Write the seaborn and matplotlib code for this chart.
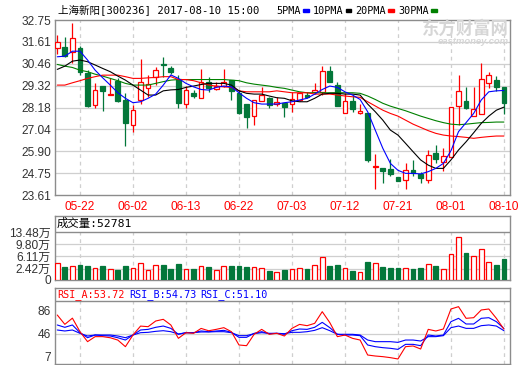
import matplotlib
matplotlib.use("Agg")
import matplotlib.pyplot as plt
import numpy as np
import seaborn as sns
from matplotlib.patches import Rectangle

# daily K-line 2017-05-17 .. 2017-08-10 (60 trading days)
open_ = [31.30, 31.35, 31.06, 31.30, 29.99, 28.31, 29.32, 28.85, 29.58, 28.57,
         27.26, 28.57, 29.21, 29.75, 30.47, 30.26, 29.66, 28.36, 28.95, 28.69,
         29.53, 29.14, 29.32, 29.64, 28.95, 28.36, 27.73, 28.53, 28.66, 28.36,
         28.43, 28.36, 28.57, 28.83, 29.00, 29.00, 30.10, 29.35, 27.91, 28.53,
         27.87, 27.91, 25.05, 25.00, 24.97, 24.57, 24.38, 24.91, 24.71, 24.38,
         25.82, 25.33, 25.61, 28.25, 28.53, 27.73, 27.84, 29.47, 29.64, 29.23]
close = [31.61, 30.86, 31.79, 30.05, 28.25, 29.12, 29.06, 28.90, 28.52, 27.39,
         28.04, 29.49, 29.40, 30.13, 30.42, 30.05, 28.43, 29.09, 28.79, 29.49,
         29.18, 29.32, 29.53, 29.06, 27.87, 27.70, 28.57, 28.83, 28.31, 28.48,
         28.22, 28.64, 28.95, 28.74, 29.12, 30.10, 29.53, 28.25, 28.53, 28.08,
         27.99, 25.44, 25.10, 24.88, 24.71, 24.34, 24.91, 24.74, 24.48, 25.69,
         25.47, 25.65, 28.22, 29.05, 28.13, 28.08, 29.66, 29.87, 29.26, 28.43]
high = [31.96, 31.87, 32.57, 31.39, 30.13, 29.47, 29.32, 29.70, 29.70, 28.95,
        28.31, 30.72, 29.87, 30.31, 30.83, 30.36, 29.87, 29.32, 29.12, 30.17,
        29.79, 29.53, 30.17, 29.64, 29.09, 28.36, 28.57, 29.26, 28.74, 28.74,
        28.43, 29.00, 29.00, 29.00, 29.47, 30.34, 30.34, 29.53, 28.92, 28.83,
        28.36, 27.91, 25.73, 25.00, 25.51, 24.57, 25.26, 25.43, 24.83, 25.96,
        26.22, 26.05, 28.22, 29.87, 29.23, 29.23, 30.52, 30.05, 29.82, 29.23]
low = [31.00, 30.83, 30.48, 29.87, 28.22, 28.13, 28.01, 28.82, 28.48, 26.17,
       26.92, 28.36, 28.74, 29.35, 29.79, 29.95, 28.13, 28.13, 28.66, 28.69,
       29.00, 29.09, 29.26, 28.57, 27.84, 27.09, 27.26, 28.53, 28.13, 28.26,
       27.66, 27.96, 28.53, 28.66, 28.88, 28.83, 29.49, 28.25, 27.91, 27.96,
       27.84, 25.35, 23.90, 24.25, 24.59, 24.32, 23.90, 24.60, 24.23, 24.23,
       25.26, 24.88, 25.61, 27.26, 28.08, 27.73, 27.84, 29.18, 29.05, 27.84]

ma5 = [30.83, 30.86, 31.12, 31.12, 30.66, 30.13, 29.73, 29.35, 28.95, 28.66,
       28.43, 28.48, 28.66, 28.88, 29.35, 29.88, 29.70, 29.44, 29.26, 29.12,
       29.09, 29.23, 29.30, 29.26, 28.95, 28.66, 28.43, 28.36, 28.36, 28.36,
       28.43, 28.48, 28.57, 28.66, 28.88, 29.12, 29.30, 29.23, 29.00, 28.83,
       28.60, 27.96, 27.00, 26.05, 25.26, 24.90, 24.74, 24.74, 24.71, 24.83,
       25.00, 25.26, 25.92, 26.92, 27.39, 27.87, 28.57, 29.00, 29.05, 29.07]
ma10 = [30.17, 30.34, 30.60, 30.66, 30.57, 30.40, 30.22, 30.05, 29.82, 29.61,
        29.35, 29.09, 28.83, 28.83, 29.05, 29.10, 29.12, 29.23, 29.30, 29.38,
        29.44, 29.44, 29.44, 29.35, 29.05, 28.92, 28.88, 28.88, 28.78, 28.69,
        28.66, 28.53, 28.48, 28.48, 28.66, 28.88, 28.92, 28.92, 28.88, 28.88,
        28.83, 28.36, 27.96, 27.52, 27.00, 26.74, 26.31, 25.87, 25.44, 25.17,
        25.00, 25.00, 25.44, 25.96, 26.39, 26.86, 27.35, 27.73, 28.04, 28.20]
ma20 = [29.35, 29.35, 29.47, 29.58, 29.70, 29.79, 29.87, 29.87, 29.87, 29.79,
        29.70, 29.70, 29.73, 29.75, 29.79, 29.79, 29.64, 29.64, 29.58, 29.47,
        29.35, 29.30, 29.26, 29.23, 29.05, 29.00, 29.00, 29.00, 29.00, 29.05,
        29.00, 28.95, 28.95, 28.95, 28.88, 28.88, 28.88, 28.83, 28.78, 28.74,
        28.71, 28.48, 28.26, 28.04, 27.87, 27.73, 27.52, 27.31, 27.14, 26.97,
        26.83, 26.74, 26.69, 26.66, 26.62, 26.57, 26.62, 26.66, 26.69, 26.69]
ma30 = [30.43, 30.34, 30.27, 30.13, 30.05, 29.92, 29.82, 29.70, 29.58, 29.44,
        29.35, 29.35, 29.35, 29.44, 29.53, 29.61, 29.64, 29.64, 29.64, 29.64,
        29.64, 29.64, 29.64, 29.61, 29.58, 29.47, 29.40, 29.35, 29.30, 29.23,
        29.18, 29.09, 29.00, 28.95, 28.95, 28.95, 28.95, 28.95, 28.95, 28.95,
        28.92, 28.78, 28.60, 28.40, 28.25, 28.13, 28.01, 27.87, 27.73, 27.61,
        27.49, 27.39, 27.31, 27.28, 27.31, 27.35, 27.39, 27.40, 27.42, 27.42]

# volume in 万 shares
volume = [4.14, 2.82, 3.33, 3.63, 3.33, 2.72, 3.33, 2.42, 2.12, 3.33,
          2.72, 4.14, 2.12, 3.54, 3.63, 2.33, 3.93, 2.42, 2.21, 3.24,
          2.82, 2.12, 3.12, 3.33, 3.12, 3.03, 2.82, 2.63, 1.82, 1.43,
          2.12, 2.42, 2.63, 2.42, 3.54, 5.96, 3.33, 3.63, 2.63, 1.82,
          1.43, 4.54, 4.14, 3.03, 2.72, 2.72, 2.72, 2.42, 2.72, 3.84,
          3.33, 2.33, 6.86, 12.00, 7.25, 6.26, 8.46, 4.54, 3.63, 5.28]

rsi_a = [78.0, 62.0, 72.6, 49.4, 32.3, 40.9, 40.9, 39.0, 35.0, 23.7,
         43.7, 59.0, 58.0, 67.7, 70.6, 60.9, 38.0, 47.7, 46.6, 55.0,
         51.0, 53.4, 56.3, 49.4, 26.6, 25.4, 44.9, 53.4, 44.9, 46.6,
         42.0, 55.1, 61.9, 59.7, 63.7, 83.7, 64.9, 40.9, 43.7, 38.0,
         35.1, 9.4, 7.7, 6.6, 4.9, 2.6, 23.7, 24.9, 19.7, 53.4,
         50.6, 54.0, 88.3, 92.3, 72.3, 73.4, 86.6, 88.3, 72.3, 53.72]
rsi_b = [60.9, 56.9, 60.9, 47.7, 39.1, 43.7, 42.6, 42.0, 39.0, 35.1,
         43.7, 52.3, 53.4, 56.9, 59.1, 55.1, 44.9, 47.7, 47.7, 50.6,
         49.4, 50.6, 51.7, 48.3, 39.7, 39.7, 46.6, 49.4, 46.0, 46.6,
         44.9, 51.1, 54.0, 53.4, 56.9, 65.4, 56.3, 44.9, 43.7, 43.7,
         42.6, 26.6, 23.7, 22.0, 20.9, 19.1, 27.7, 27.7, 25.4, 43.7,
         42.0, 43.7, 66.6, 72.3, 62.6, 62.6, 72.3, 73.4, 66.6, 54.73]
rsi_c = [52.3, 50.6, 52.3, 46.6, 42.0, 43.7, 43.7, 43.7, 42.0, 39.1,
         43.7, 47.7, 48.3, 50.0, 51.1, 49.4, 45.4, 47.7, 47.7, 48.9,
         48.9, 49.4, 49.4, 47.7, 42.6, 42.6, 46.0, 47.7, 46.6, 46.6,
         46.0, 48.3, 48.3, 49.4, 51.7, 56.3, 51.1, 44.9, 44.9, 44.9,
         43.7, 35.1, 32.3, 32.3, 32.3, 31.1, 35.1, 35.1, 33.4, 40.9,
         40.9, 42.6, 56.3, 59.1, 55.1, 55.1, 59.7, 60.9, 59.1, 51.10]

date_ticks = [3, 10, 17, 24, 31, 38, 45, 52, 59]
date_labels = ["05-22", "06-02", "06-13", "06-22", "07-03", "07-12", "07-21", "08-01", "08-10"]
price_ticks = [23.61, 24.75, 25.90, 27.04, 28.18, 29.32, 30.46, 31.61, 32.75]
vol_ticks = [2.42, 6.11, 9.80, 13.48]
rsi_ticks = [7, 46, 86]

sns.set_style("white")
plt.rcParams["font.family"] = ["Liberation Sans", "Noto Sans CJK SC"]
MONO = ["DejaVu Sans Mono", "Noto Sans CJK SC"]

UP, DOWN = "#ff0000", "#03773a"
GRID, FRAME = "#cfcfcf", "#8c8c8c"
W, H = 520, 365
x = np.arange(len(close))
up = [c >= o for o, c in zip(open_, close)]


def box(l, t, r, b):
    return [l / W, 1 - b / H, (r - l) / W, (b - t) / H]


def frame(ax):
    for s in ax.spines.values():
        s.set_visible(True)
        s.set_color(FRAME)
        s.set_linewidth(1.0)
    ax.set_xlim(-0.3, 59.8)
    ax.tick_params(length=0, pad=3, labelsize=8.6, colors="#333333")


fig = plt.figure(figsize=(5.2, 3.65), dpi=100)

# ---- price panel
ax = fig.add_axes(box(55, 20, 510, 195))
frame(ax)
ax.set_ylim(23.61, 32.75)
ax.set_yticks(price_ticks)
ax.set_yticklabels([f"{v:.2f}" for v in price_ticks])
for v in price_ticks[1:-1]:
    ax.axhline(v, color=GRID, lw=0.9, zorder=0)
ax.vlines(date_ticks, 23.61, 32.75, color=GRID, lw=0.9, linestyles=(0, (3, 3)), zorder=0)
ax.set_xticks(date_ticks)
ax.set_xticklabels(date_labels, color="#ff0000")
ax.tick_params(axis="x", pad=4)

ax.vlines(x, low, high, color=[UP if u else DOWN for u in up], lw=0.9, zorder=2)
body = [max(abs(c - o), 0.02) for o, c in zip(open_, close)]
ax.bar(x, body, bottom=[min(o, c) for o, c in zip(open_, close)], width=0.62,
       color=["white" if u else DOWN for u in up],
       edgecolor=[UP if u else DOWN for u in up], linewidth=0.9, zorder=3)

for ma, col in [(ma30, "#008000"), (ma20, "#ff0000"), (ma10, "#000000"), (ma5, "#0000ff")]:
    sns.lineplot(x=x, y=ma, ax=ax, color=col, lw=0.8, zorder=4)
ax.set_xlabel("")
ax.set_ylabel("")

# watermark
fig.text(509 / W, 1 - 29 / H, "东方财富网", ha="right", va="center", fontsize=12.5,
         fontweight="bold", color="#d6d6d6", family=["Noto Sans CJK SC"])
fig.text(509 / W, 1 - 41.5 / H, "eastmoney.com", ha="right", va="center", fontsize=6.8,
         fontweight="bold", style="italic", color="#d6d6d6")

# ---- volume panel
VOL_FLOOR = -0.99
axv = fig.add_axes(box(55, 216, 510, 280))
frame(axv)
axv.set_ylim(VOL_FLOOR, VOL_FLOOR + 64 * 0.302)
axv.set_yticks([VOL_FLOOR] + vol_ticks)
axv.set_yticklabels(["0"] + [f"{v:.2f}万" for v in vol_ticks])
axv.set_xticks([])
for v in vol_ticks[:-1]:
    axv.axhline(v, color=GRID, lw=0.9, zorder=0)
axv.axhline(vol_ticks[-1], color=FRAME, lw=1.0, zorder=1)
axv.vlines(date_ticks, VOL_FLOOR, vol_ticks[-1], color=GRID, lw=0.9, linestyles=(0, (3, 3)), zorder=0)
axv.bar(x, [v - VOL_FLOOR for v in volume], bottom=VOL_FLOOR, width=0.62,
        color=["white" if u else DOWN for u in up],
        edgecolor=[UP if u else DOWN for u in up], linewidth=0.9, zorder=3)
fig.text(57 / W, 1 - 223.5 / H, "成交量:52781", va="center", fontsize=8.2,
         color="#000000", family=MONO)

# ---- RSI panel
axr = fig.add_axes(box(55, 288, 510, 364))
frame(axr)
axr.set_ylim(-6, 124.3)
axr.set_yticks(rsi_ticks)
axr.set_yticklabels([str(v) for v in rsi_ticks])
axr.set_xticks([])
axr.axhline(46, color=GRID, lw=0.9, zorder=0)
axr.axhline(102, color=FRAME, lw=1.0, zorder=1)
axr.vlines(date_ticks, -6, 102, color=GRID, lw=0.9, linestyles=(0, (3, 3)), zorder=0)
for r, col in [(rsi_c, "#0000ff"), (rsi_b, "#0000ff"), (rsi_a, "#ff0000")]:
    sns.lineplot(x=x, y=r, ax=axr, color=col, lw=0.8, zorder=3)
axr.set_xlabel("")
axr.set_ylabel("")
for xp, txt, col in [(57, "RSI_A:53.72", "#ff0000"), (129, "RSI_B:54.73", "#0000ff"),
                     (200, "RSI_C:51.10", "#0000ff")]:
    fig.text(xp / W, 1 - 294.5 / H, txt, va="center", fontsize=7.3, color=col, family=MONO)

# ---- header
fig.text(58 / W, 1 - 10 / H, "上海新阳[300236] 2017-08-10 15:00", va="center",
         fontsize=7.6, color="#000000", family=MONO)
for xp, lab, bx, col in [(276, "5PMA", 303, "#0000ff"), (313, "10PMA", 345.5, "#000000"),
                         (355.5, "20PMA", 388, "#ff0000"), (398, "30PMA", 431, "#008000")]:
    fig.text(xp / W, 1 - 10.5 / H, lab, va="center", fontsize=7.3, color="#000000", family=MONO)
    fig.add_artist(Rectangle((bx / W, 1 - 12 / H), 5.5 / W, 2.6 / H,
                             transform=fig.transFigure, color=col))

fig.savefig("out.png", dpi=100)
